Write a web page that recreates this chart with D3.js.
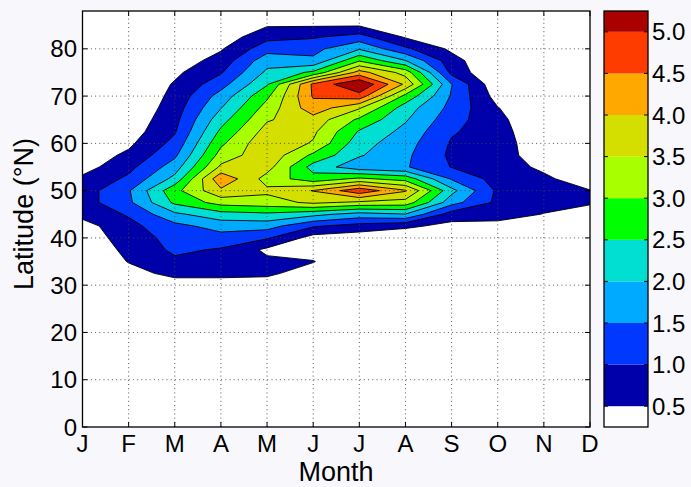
<!DOCTYPE html>
<html>
<head>
<meta charset="utf-8">
<script src="https://cdn.jsdelivr.net/npm/d3@7"></script>
<style>
body { margin: 0; background: #f8f8fc; }
svg { display: block; }
text { font-family: "Liberation Sans", Arial, sans-serif; fill: #000; }
.grid_line { stroke: #444; stroke-width: 0.9; stroke-dasharray: 1,3.2; fill: none; }
.contour_fill { stroke: #000; stroke-width: 0.9; stroke-linejoin: round; }
.frame { fill: none; stroke: #000; stroke-width: 1.3; }
.tick { stroke: #000; stroke-width: 1; }
.tick_text { font-size: 24px; }
.axis_title { font-size: 27px; }
</style>
</head>
<body>
<svg id="chart" width="691" height="487"></svg>
<script>
'use strict';
/*
Monthly latitude distribution, filled contours
*/

// ---- data ----
const month_labels = ['J', 'F', 'M', 'A', 'M', 'J', 'J', 'A', 'S', 'O', 'N', 'D'];
const lat_ticks = [0, 10, 20, 30, 40, 50, 60, 70, 80];
const levels = [0.5, 1.0, 1.5, 2.0, 2.5, 3.0, 3.5, 4.0, 4.5, 5.0];

// grid rows (deg N), bottom to top
const latitudes = [30, 32.5, 35, 37.5, 40, 42.5, 45, 47.5, 50, 52.5, 55, 57.5,
                   60, 62.5, 65, 67.5, 70, 72.5, 75, 77.5, 80, 82.5, 85, 87.5];

// one column per month, same order as latitudes
const jan = [0, 0, 0.1, 0.2, 0.25, 0.3, 0.65, 0.78, 0.75, 0.6, 0.3, 0.2, 0.1, 0, 0, 0, 0, 0, 0, 0, 0, 0, 0, 0];
const feb = [0.2, 0.35, 0.52, 0.6, 0.7, 0.85, 1.05, 1.4, 1.45, 1.1, 0.85, 0.6, 0.4, 0.25, 0.15, 0.05, 0, 0, 0, 0, 0, 0, 0, 0];
const mar = [0.3, 0.62, 0.9, 1.1, 1.2, 1.35, 1.9, 2.6, 2.85, 2.15, 1.75, 1.4, 1.15, 0.95, 0.85, 0.75, 0.65, 0.55, 0.4, 0.2, 0.1, 0, 0, 0];
const apr = [0.3, 0.62, 0.75, 0.95, 1.3, 1.7, 2.3, 3.2, 3.9, 4.4, 3.6, 3.2, 2.9, 2.6, 2.3, 1.98, 1.7, 1.3, 0.95, 0.7, 0.45, 0.2, 0, 0];
const may = [0.3, 0.58, 0.6, 0.4, 1.05, 1.7, 2.4, 3.3, 3.6, 3.3, 3.7, 3.85, 3.9, 3.7, 3.45, 3.2, 2.9, 2.45, 2.1, 1.8, 1.3, 0.85, 0.45, 0];
const jun = [0.1, 0.3, 0.52, 0.3, 0.3, 1.05, 2.15, 3.6, 4.02, 2.7, 2.3, 2.9, 3.45, 3.6, 3.8, 4.3, 4.55, 4.6, 2.6, 1.6, 1.35, 0.95, 0.45, 0];
const jul = [0, 0, 0.1, 0.1, 0.2, 0.8, 1.8, 3.4, 4.85, 3.1, 1.7, 2.05, 2.2, 2.45, 2.9, 3.55, 4.8, 5.5, 4.2, 2.95, 1.95, 1.2, 0.45, 0];
const aug = [0, 0, 0, 0.05, 0.1, 0.6, 1.98, 3.3, 4.05, 2.8, 1.55, 1.6, 1.7, 1.85, 2.05, 2.25, 2.85, 3.9, 3.3, 2.02, 1.1, 0.45, 0.1, 0];
const sep = [0, 0, 0, 0, 0.05, 0.35, 0.75, 1.7, 2.15, 1.45, 0.98, 0.9, 0.95, 1.05, 1.2, 1.35, 1.45, 1.52, 0.85, 0.7, 0.4, 0.1, 0, 0];
const oct = [0, 0, 0, 0, 0, 0.3, 0.75, 0.88, 0.9, 0.8, 0.75, 0.75, 0.78, 0.75, 0.65, 0.52, 0.3, 0.1, 0, 0, 0, 0, 0, 0];
const nov = [0, 0, 0, 0, 0, 0.1, 0.48, 0.7, 0.7, 0.6, 0.4, 0.2, 0.1, 0, 0, 0, 0, 0, 0, 0, 0, 0, 0, 0];
const dec = [0, 0, 0, 0, 0, 0, 0.3, 0.55, 0.52, 0.2, 0.1, 0, 0, 0, 0, 0, 0, 0, 0, 0, 0, 0, 0, 0];
const monthly = [jan, feb, mar, apr, may, jun, jul, aug, sep, oct, nov, dec];

// ---- style ----
// colour of the band above each level
const band_colors = ['#0000aa', '#0038ff', '#00aaff', '#00dfd2', '#00ff00',
                     '#a8ff00', '#d4df00', '#ffa800', '#ff3c00', '#aa0000'];
const plot = { left: 82.5, right: 590, top: 11, bottom: 427 };
const cbar = { left: 604, right: 648, min: 0.25, max: 5.25 };
const TICK_LEN = 5;

const svg = d3.select('#chart');
const x_scale = d3.scaleLinear().domain([0, month_labels.length - 1]).range([plot.left, plot.right]);
const y_scale = d3.scaleLinear().domain([0, 88]).range([plot.bottom, plot.top]);

draw_contours();
draw_axes();
draw_colorbar();

// filled contours
function draw_contours() {
    const n_x = monthly.length;
    const n_y = latitudes.length;
    const lat_step = latitudes[1] - latitudes[0];
    // row-major grid for d3.contours
    const values = [];
    for (let j = 0; j < n_y; j++) {
        for (let i = 0; i < n_x; i++) {
            values.push(monthly[i][j]);
        }
    }
    const contours = d3.contours()
        .size([n_x, n_y])
        .thresholds(levels)
        (values);

    // grid cell centre (i+0.5, j+0.5) -> month i, latitudes[j]
    const to_px = d3.geoTransform({
        point: function (gx, gy) {
            this.stream.point(
                x_scale(gx - 0.5),
                y_scale(latitudes[0] + (gy - 0.5) * lat_step)
            );
        }
    });
    const path = d3.geoPath(to_px);

    svg.append('clipPath')
        .attr('id', 'plot_clip')
        .append('rect')
        .attr('x', plot.left)
        .attr('y', plot.top)
        .attr('width', plot.right - plot.left)
        .attr('height', plot.bottom - plot.top)
    ;
    svg.append('rect')
        .attr('x', plot.left)
        .attr('y', plot.top)
        .attr('width', plot.right - plot.left)
        .attr('height', plot.bottom - plot.top)
        .attr('fill', '#fff')
    ;
    svg.append('g')
        .attr('clip-path', 'url(#plot_clip)')
        .selectAll('path')
        .data(contours)
        .join('path')
        .attr('class', 'contour_fill')
        .attr('d', path)
        .attr('fill', (d, k) => band_colors[k])
    ;
}

// grid, ticks, labels, frame
function draw_axes() {
    const g = svg.append('g');
    // dotted grid on top of the fill
    month_labels.forEach((m, i) => {
        if (i == 0 || i == month_labels.length - 1) return;
        g.append('line')
            .attr('class', 'grid_line')
            .attr('x1', x_scale(i)).attr('x2', x_scale(i))
            .attr('y1', plot.bottom).attr('y2', plot.top)
        ;
    });
    lat_ticks.forEach(v => {
        if (v == 0) return;
        g.append('line')
            .attr('class', 'grid_line')
            .attr('x1', plot.left).attr('x2', plot.right)
            .attr('y1', y_scale(v)).attr('y2', y_scale(v))
        ;
    });

    // ticks pointing inwards on all four sides
    month_labels.forEach((m, i) => {
        const x = x_scale(i);
        g.append('line').attr('class', 'tick')
            .attr('x1', x).attr('x2', x)
            .attr('y1', plot.bottom).attr('y2', plot.bottom - TICK_LEN);
        g.append('line').attr('class', 'tick')
            .attr('x1', x).attr('x2', x)
            .attr('y1', plot.top).attr('y2', plot.top + TICK_LEN);
        g.append('text')
            .attr('class', 'tick_text')
            .attr('x', x)
            .attr('y', 452)
            .attr('text-anchor', 'middle')
            .text(m)
        ;
    });
    lat_ticks.forEach(v => {
        const y = y_scale(v);
        g.append('line').attr('class', 'tick')
            .attr('x1', plot.left).attr('x2', plot.left + TICK_LEN)
            .attr('y1', y).attr('y2', y);
        g.append('line').attr('class', 'tick')
            .attr('x1', plot.right).attr('x2', plot.right - TICK_LEN)
            .attr('y1', y).attr('y2', y);
        g.append('text')
            .attr('class', 'tick_text')
            .attr('x', 77)
            .attr('y', y)
            .attr('dy', '0.36em')
            .attr('text-anchor', 'end')
            .text(v)
        ;
    });

    g.append('rect')
        .attr('class', 'frame')
        .attr('x', plot.left)
        .attr('y', plot.top)
        .attr('width', plot.right - plot.left)
        .attr('height', plot.bottom - plot.top)
    ;

    g.append('text')
        .attr('class', 'axis_title')
        .attr('x', 336)
        .attr('y', 481)
        .attr('text-anchor', 'middle')
        .text('Month')
    ;
    g.append('text')
        .attr('class', 'axis_title')
        .attr('transform', 'translate(33,214) rotate(-90)')
        .attr('text-anchor', 'middle')
        .text('Latitude (°N)')
    ;
}

// colour bar on the right
function draw_colorbar() {
    const c_scale = d3.scaleLinear().domain([cbar.min, cbar.max]).range([plot.bottom, plot.top]);
    const bands = [[cbar.min, levels[0], '#fff']];
    levels.forEach((lv, k) => {
        const top = (k + 1 < levels.length) ? levels[k + 1] : cbar.max;
        bands.push([lv, top, band_colors[k]]);
    });
    const g = svg.append('g');
    g.selectAll('rect.band')
        .data(bands)
        .join('rect')
        .attr('class', 'band')
        .attr('x', cbar.left)
        .attr('width', cbar.right - cbar.left)
        .attr('y', d => c_scale(d[1]))
        .attr('height', d => c_scale(d[0]) - c_scale(d[1]))
        .attr('fill', d => d[2])
    ;
    levels.forEach(lv => {
        const y = c_scale(lv);
        g.append('line').attr('class', 'tick')
            .attr('x1', cbar.left).attr('x2', cbar.left + 4)
            .attr('y1', y).attr('y2', y);
        g.append('line').attr('class', 'tick')
            .attr('x1', cbar.right).attr('x2', cbar.right - 4)
            .attr('y1', y).attr('y2', y);
        g.append('text')
            .attr('class', 'tick_text')
            .attr('x', cbar.right + 4)
            .attr('y', y)
            .attr('dy', '0.36em')
            .text(lv.toFixed(1))
        ;
    });
    g.append('rect')
        .attr('class', 'frame')
        .attr('x', cbar.left)
        .attr('y', plot.top)
        .attr('width', cbar.right - cbar.left)
        .attr('height', plot.bottom - plot.top)
    ;
}
</script>
</body>
</html>
